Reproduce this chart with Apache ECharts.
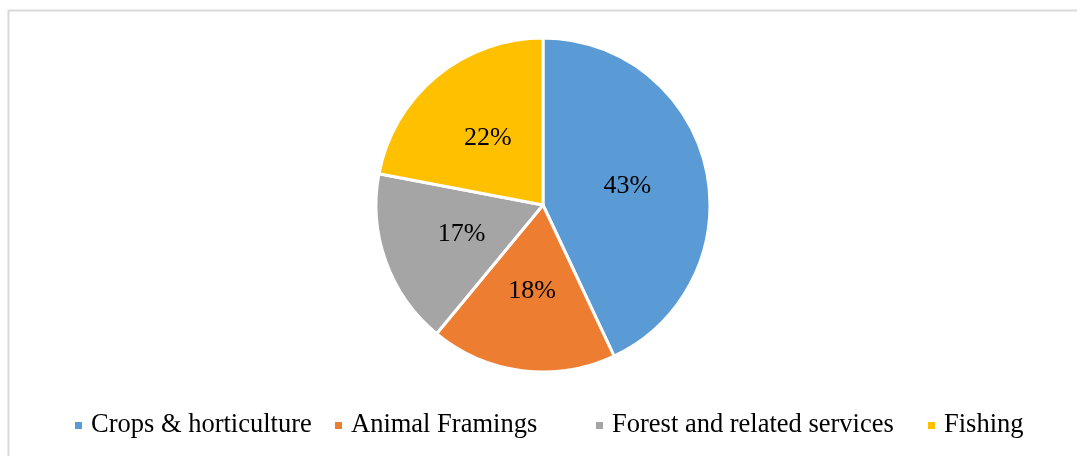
<!DOCTYPE html>
<html><head><meta charset="utf-8">
<script src="https://cdn.jsdelivr.net/npm/echarts@6/dist/echarts.min.js"></script>
<style>html,body{margin:0;padding:0;background:#fff}#c{width:1077px;height:456px}</style>
</head><body><div id="c"></div>
<script>
const categories = ["Crops & horticulture", "Animal Framings", "Forest and related services", "Fishing"];
const values = [43, 18, 17, 22];
const colors = ["#5B9BD5", "#ED7D31", "#A5A5A5", "#FFC000"];

const chart = echarts.init(document.getElementById('c'), null, {renderer: 'canvas'});
const font = "'Liberation Serif', 'Times New Roman', serif";
const legendLeft = [73, 333, 594, 926];
chart.setOption({
  animation: false,
  backgroundColor: '#fff',
  color: colors,
  graphic: [{
    type: 'rect', left: 6, top: 8, z: -1,
    shape: {x: 0, y: 0, width: 1200, height: 600},
    style: {fill: 'none', stroke: '#d9d9d9', lineWidth: 2}
  }],
  legend: categories.map((n, i) => ({
    left: legendLeft[i], top: 412,
    icon: 'rect', itemWidth: 9, itemHeight: 9,
    padding: 0,
    data: [n],
    textStyle: {fontFamily: font, fontSize: 26.5, color: '#000', padding: [0, 0, 0, 3]}
  })),
  series: [{
    type: 'pie',
    center: [543, 205],
    radius: [0, 167],
    startAngle: 90,
    clockwise: true,
    data: categories.map((n, i) => ({name: n, value: values[i]})),
    itemStyle: {borderColor: '#fff', borderWidth: 3},
    label: {
      position: 'inside',
      formatter: '{d}%',
      fontFamily: font, fontSize: 26, color: '#000'
    },
    labelLine: {show: false},
    emphasis: {disabled: true}
  }]
});
</script></body></html>
